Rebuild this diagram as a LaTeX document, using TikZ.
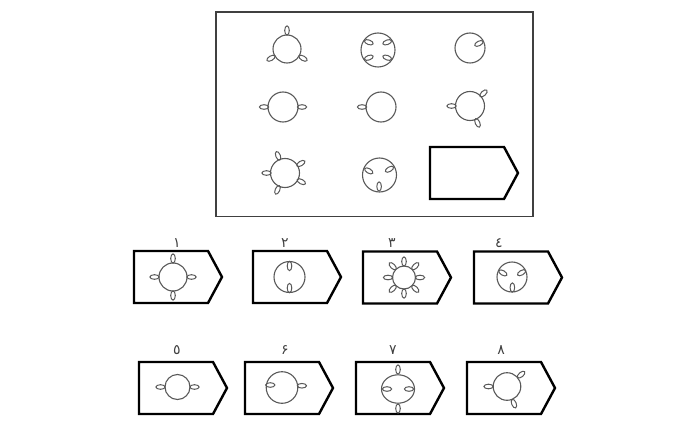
\documentclass[tikz,border=0pt]{standalone}
\usepackage{fontspec}
\newfontfamily\arabicfont[Script=Arabic]{DejaVu Sans}
\TeXXeTstate=1
\tikzset{
  frame/.style={draw=black!75, line width=1.4pt},
  cardline/.style={draw=black, line width=2.4pt, line join=miter},
  ring/.style={draw=black!65, line width=1.1pt},
  lobe/.style={draw=black!65, line width=1pt},
  num/.style={font=\arabicfont\fontsize{14}{14}\selectfont, text=black!75, inner sep=0pt}
}
% answer card, top left corner at (#1,#2)
\newcommand\card[2]{\draw[cardline] (#1,#2) -- ++(74,0) -- ++(14,26) -- ++(-14,26) -- ++(-74,0) -- cycle;}
% small loop: position angle, distance, direction
\newcommand\lobe[3]{\draw[lobe,shift={(#1:#2)},rotate=#3] (0,0) ellipse (4.6 and 2.3);}
\begin{document}
\begin{tikzpicture}[x=1pt,y=-1pt]
\useasboundingbox (0,0) rectangle (700,422);
\draw[frame] (216,12) rectangle (533,216.5);
% row 1
\begin{scope}[shift={(287,49)},y=1pt]
\draw[ring] (0,0) circle (14);
\foreach \a in {90,210,330} {\lobe{\a}{18.5}{\a}}
\end{scope}
\begin{scope}[shift={(378,50)},y=1pt]
\draw[ring] (0,0) circle (17);
\lobe{140}{12}{160} \lobe{40}{12}{20} \lobe{220}{12}{200} \lobe{320}{12}{340}
\end{scope}
\begin{scope}[shift={(470,48)},y=1pt]
\draw[ring] (0,0) circle (15);
\lobe{27}{10}{27}
\end{scope}
% row 2
\begin{scope}[shift={(283,107)},y=1pt]
\draw[ring] (0,0) circle (15);
\lobe{0}{19}{0} \lobe{180}{19}{180}
\end{scope}
\begin{scope}[shift={(381,107)},y=1pt]
\draw[ring] (0,0) circle (15);
\lobe{180}{19}{180}
\end{scope}
\begin{scope}[shift={(470,106)},y=1pt]
\draw[ring] (0,0) circle (14.5);
\foreach \a in {180,43,-66} {\lobe{\a}{18.5}{\a}}
\end{scope}
% row 3
\begin{scope}[shift={(285,173)},y=1pt]
\draw[ring] (0,0) circle (14.5);
\foreach \a in {112,31,-28,-114,180} {\lobe{\a}{18.5}{\a}}
\end{scope}
\begin{scope}[shift={(379.5,175)},y=1pt]
\draw[ring] (0,0) circle (17);
\lobe{159}{11.5}{150} \lobe{30}{11.5}{30} \lobe{-92}{11.5}{90}
\end{scope}
\card{430}{147}
% answers, top row
\card{134}{251}
\node[num] (num1) at (177,243) {\beginR ١\endR};
\begin{scope}[shift={(173,277)},y=1pt]
\draw[ring] (0,0) circle (14);
\foreach \a in {0,90,180,270} {\lobe{\a}{18.5}{\a}}
\end{scope}
\card{253}{251}
\node[num] (num2) at (285,243) {\beginR ٢\endR};
\begin{scope}[shift={(289.5,277)},y=1pt]
\draw[ring] (0,0) circle (15.5);
\lobe{90}{11}{90} \lobe{270}{11}{90}
\end{scope}
\card{363}{251.5}
\node[num] (num3) at (392,243) {\beginR ٣\endR};
\begin{scope}[shift={(404,277.5)},y=1pt]
\draw[ring] (0,0) circle (11.5);
\foreach \a in {0,45,...,315} {\lobe{\a}{16}{\a}}
\end{scope}
\card{474}{251.5}
\node[num] (num4) at (499,243) {\beginR ٤\endR};
\begin{scope}[shift={(512,277)},y=1pt]
\draw[ring] (0,0) circle (15);
\lobe{156}{10}{150} \lobe{24}{10.5}{30} \lobe{-88}{10.5}{90}
\end{scope}
% answers, bottom row
\card{139}{362}
\node[num] (num5) at (177,350) {\beginR ٥\endR};
\begin{scope}[shift={(177.5,387)},y=1pt]
\draw[ring] (0,0) circle (12.5);
\lobe{0}{17}{0} \lobe{180}{17}{180}
\end{scope}
\card{245}{362}
\node[num] (num6) at (285,350) {\beginR ۶\endR};
\begin{scope}[shift={(282,387.5)},y=1pt]
\draw[ring] (0,0) circle (15.8);
\lobe{168}{12}{180} \lobe{5}{20}{0}
\end{scope}
\card{356}{362}
\node[num] (num7) at (393,350) {\beginR ٧\endR};
\begin{scope}[shift={(398,389)},y=1pt]
\draw[ring] (0,0) ellipse (16.5 and 14.2);
\lobe{90}{19.5}{90} \lobe{270}{19.5}{90} \lobe{180}{11}{0} \lobe{0}{11}{0}
\end{scope}
\card{467}{362}
\node[num] (num8) at (501,350) {\beginR ٨\endR};
\begin{scope}[shift={(507,386.5)},y=1pt]
\draw[ring] (0,0) circle (13.8);
\foreach \a in {180,40,-68} {\lobe{\a}{18.5}{\a}}
\end{scope}
\end{tikzpicture}
\end{document}
